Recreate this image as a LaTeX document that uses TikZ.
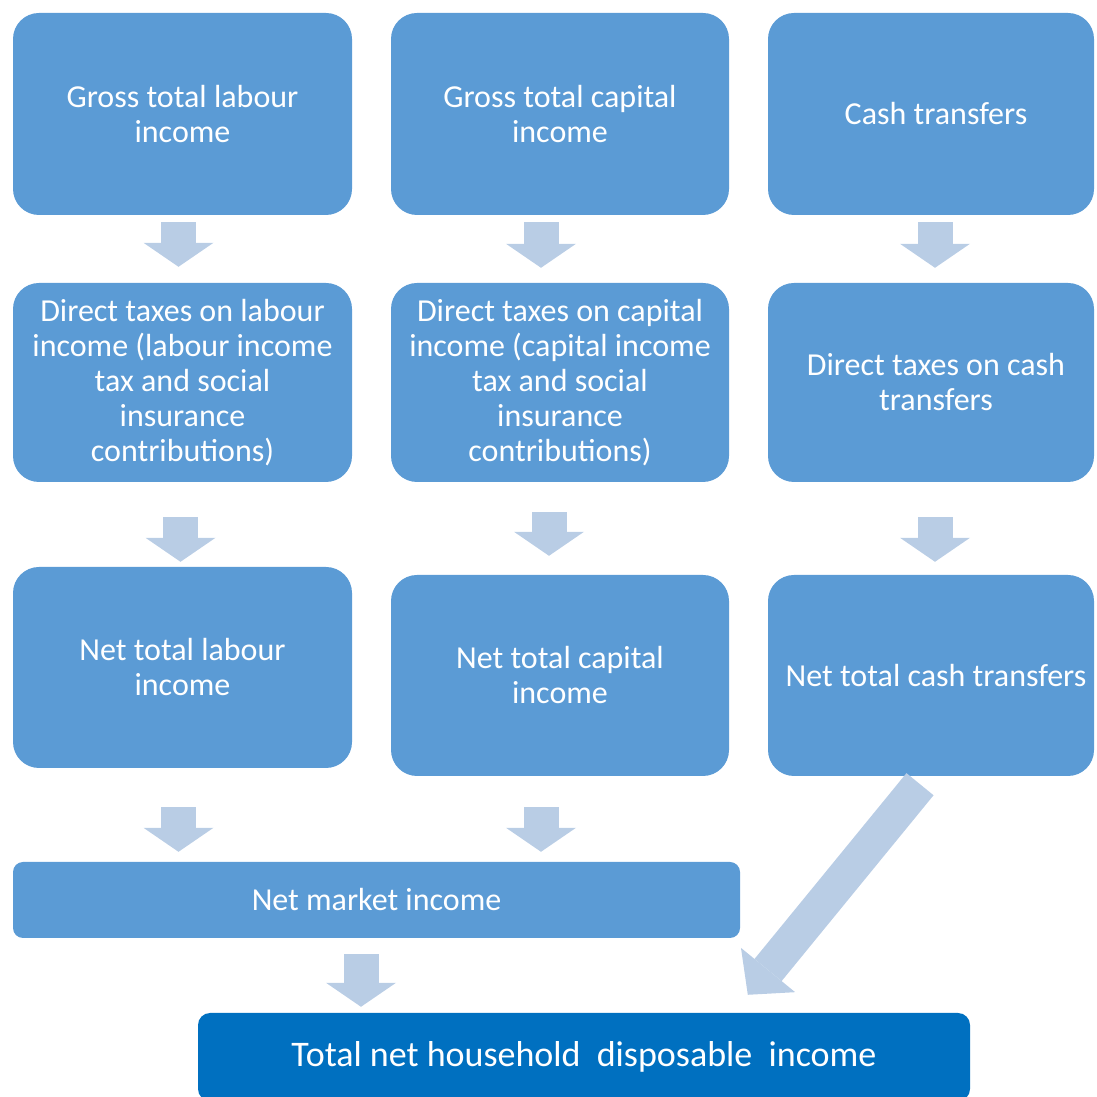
\documentclass[tikz,border=0pt]{standalone}
\usepackage{fontspec}
\setmainfont{Carlito}
\usepackage{xcolor}
\definecolor{hopxanh}{HTML}{5B9BD5}
\definecolor{hopdam}{HTML}{0070C0}
\definecolor{muiten}{HTML}{B9CDE5}
\usetikzlibrary{arrows.meta,calc,positioning}

\begin{document}
\begin{tikzpicture}[x=1pt,y=1pt,
	hop/.style={fill=hopxanh,rounded corners=26pt,text=white,align=center,inner sep=0pt,
		font=\fontsize{32}{35}\selectfont},
	dong/.style={line width=35pt,draw=muiten,
		-{Triangle[width=70pt,length=24pt,line width=0pt,fill=muiten]}}]
	\useasboundingbox (0,0) rectangle (1096,1097);
	%%%Hang 1
	\node[hop,minimum width=339pt,minimum height=202pt] (g1) at (182.5,983) {Gross total labour\\income};
	\node[hop,minimum width=338pt,minimum height=202pt] (g2) at (560,983) {Gross total capital\\income};
	\node[hop,minimum width=326pt,minimum height=202pt] (g3) at (931,983) {\hspace*{10pt}Cash transfers};
	%%%Hang 2
	\node[hop,minimum width=339pt,minimum height=199pt] (d1) at (182.5,714.5) {Direct taxes on labour\\income (labour income\\tax and social\\insurance\\contributions)};
	\node[hop,minimum width=338pt,minimum height=199pt] (d2) at (560,714.5) {Direct taxes on capital\\income (capital income\\tax and social\\insurance\\contributions)};
	\node[hop,minimum width=326pt,minimum height=199pt] (d3) at (931,714.5) {\hspace*{10pt}Direct taxes on cash\\\hspace*{10pt}transfers};
	%%%Hang 3
	\node[hop,minimum width=339pt,minimum height=201pt] (n1) at (182.5,429.5) {Net total labour\\income};
	\node[hop,minimum width=338pt,minimum height=201pt] (n2) at (560,421.5) {Net total capital\\income};
	\node[hop,minimum width=326pt,minimum height=201pt] (n3) at (931,421.5) {\hspace*{10pt}Net total cash transfers};
	%%%Hai hop duoi
	\node[hop,rounded corners=10pt,minimum width=727pt,minimum height=76pt] (market) at (376.5,197) {Net market income};
	\node[hop,fill=hopdam,rounded corners=12pt,minimum width=772pt,minimum height=88pt,
		font=\fontsize{36}{40}\selectfont] (total) at (584,40) {Total net household\ \ disposable\ \ income};
	%%%Cac mui ten
	\foreach \a/\b/\x/\u/\v in {g1/d1/-4/7/16, g2/d2/-19/7/15, g3/d3/4/7/15,
		d1/n1/-2/35/5, d2/n2/-11/30/19, d3/n3/4/35/13}{%
		\draw[dong,shorten <=\u pt,shorten >=\v pt] ([xshift=\x pt]\a.south) -- ([xshift=\x pt]\b.north);
	}
	\draw[dong,shorten <=39pt,shorten >=10pt] ([xshift=-4pt]n1.south) -- ([xshift=-4pt]n1.south |- market.north);
	\draw[dong,shorten <=31pt,shorten >=10pt] ([xshift=-19pt]n2.south) -- ([xshift=-19pt]n2.south |- market.north);
	\draw[dong,shorten <=16pt,shorten >=6pt] (market.south -| 361,0) -- (total.north -| 361,0);
	\draw[dong,-{Triangle[width=70pt,length=32pt,line width=0pt,fill=muiten]}]
		($(n3.south)+(-11,-8)$) -- ($(total.north west)+(550,18)$);
\end{tikzpicture}
\end{document}
